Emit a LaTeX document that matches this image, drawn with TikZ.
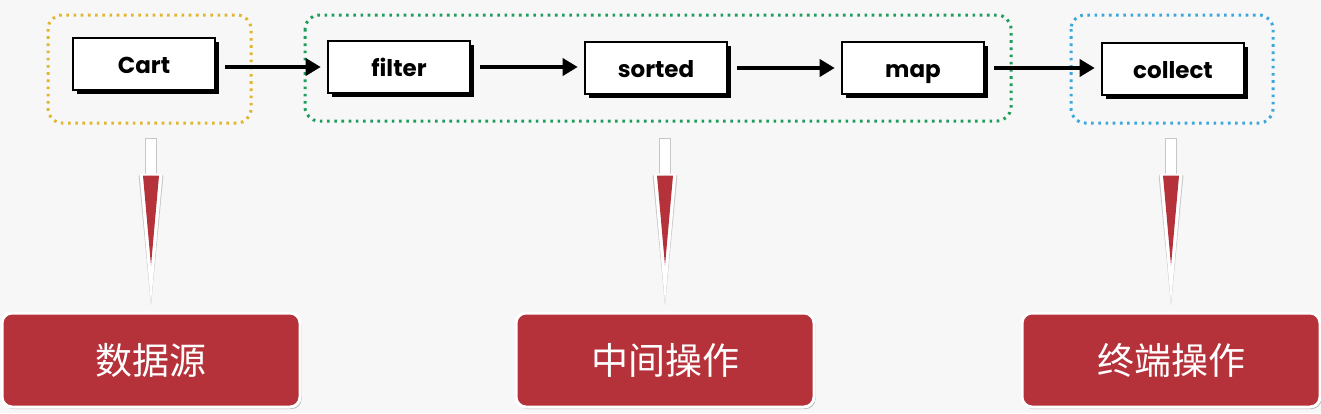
\documentclass[tikz,border=0pt]{standalone}
\usepackage{fontspec}
\newfontfamily\boxfont{Poppins}
\newfontfamily\cjk{Noto Sans CJK SC}
\usetikzlibrary{arrows.meta,shadows}
\definecolor{bg}{HTML}{F7F7F7}
\definecolor{ylw}{HTML}{E2B62C}
\definecolor{grn}{HTML}{1F9D5C}
\definecolor{blu}{HTML}{3BA7DC}
\definecolor{catred}{HTML}{B5323A}
\begin{document}
\begin{tikzpicture}[x=1pt,y=-1pt,
  opbox/.style={draw=black, line width=2.6pt, fill=white, minimum width=142pt, minimum height=52pt,
    inner sep=0pt, text height=21pt, text depth=2pt,
    font=\boxfont\bfseries\fontsize{23}{26}\selectfont,
    drop shadow={shadow xshift=4pt, shadow yshift=-4pt, fill=black, opacity=1}},
  flow/.style={line width=3.6pt, -{Triangle[length=15pt,width=17pt]}, shorten <=9pt, shorten >=6pt},
  grp/.style={line width=3pt, dash pattern=on 2.6pt off 4.6pt, rounded corners=14pt},
  cat/.style={fill=catred, draw=white, line width=3pt, rounded corners=10pt,
    minimum width=298pt, minimum height=94pt, text=white, font=\cjk\fontsize{37}{42}\selectfont,
    drop shadow={shadow xshift=1.5pt, shadow yshift=-2pt, fill=black!35, opacity=0.8}},
]
\useasboundingbox (0,0) rectangle (1321,413);
\fill[bg] (0,0) rectangle (1321,413);

% group outlines
\draw[grp, ylw] (48,15) rectangle (251,123);
\draw[grp, grn] (305,15) rectangle (1011,121);
\draw[grp, blu] (1071,15) rectangle (1273,123);

% operation boxes
\node[opbox] (cart)    at (144,64) {Cart};
\node[opbox] (filter)  at (399,67) {filter};
\node[opbox] (sorted)  at (656,68) {sorted};
\node[opbox] (map)     at (913,68) {map};
\node[opbox] (collect) at (1173,69) {collect};

\draw[flow] ([yshift=-3pt]cart.east) -- ([yshift=-3pt]cart.east -| filter.west);
\draw[flow] (filter.east) -- (filter.east -| sorted.west);
\draw[flow] (sorted.east) -- (sorted.east -| map.west);
\draw[flow] (map.east) -- (map.east -| collect.west);

% category boxes
\node[cat] (src)  at (151,360) {数据源};
\node[cat] (mid)  at (665,360) {中间操作};
\node[cat] (term) at (1171,360) {终端操作};

% pointers
\foreach \n in {src,mid,term}{
  \path (\n.north) coordinate (p);
  \begin{scope}[shift={(p)}]
    \fill[black!22] (-6,-174) rectangle (6,-136);
    \fill[black!22, rounded corners=2pt] (-12.5,-137) -- (12.5,-137) -- (0,-6) -- cycle;
    \fill[white] (-5,-173) rectangle (5,-136);
    \fill[white, rounded corners=2pt] (-11.5,-138) -- (11.5,-138) -- (0,-8) -- cycle;
    \fill[catred] (-8,-136) -- (8,-136) -- (0,-46) -- cycle;
  \end{scope}
}
\end{tikzpicture}
\end{document}
